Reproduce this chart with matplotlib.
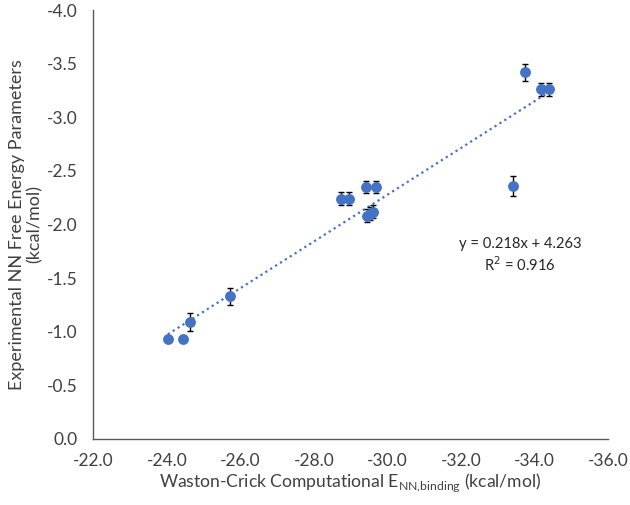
import numpy as np
import matplotlib
matplotlib.use('Agg')
import matplotlib.pyplot as plt
from matplotlib.ticker import FormatStrFormatter

# data
comp_energy = [-24.03, -24.44, -24.63, -25.71, -28.75, -28.96, -29.41, -29.69,
               -29.44, -29.52, -29.60, -33.74, -34.17, -34.39, -33.42]
exp_free = [-0.93, -0.93, -1.09, -1.33, -2.24, -2.24, -2.35, -2.35,
            -2.08, -2.10, -2.12, -3.42, -3.26, -3.26, -2.36]
exp_err = [0.0, 0.0, 0.08, 0.08, 0.06, 0.06, 0.06, 0.06,
           0.06, 0.06, 0.06, 0.08, 0.06, 0.06, 0.09]
slope = 0.218
intercept = 4.263
r_squared = 0.916

plt.rcParams['font.family'] = ['Lato', 'DejaVu Sans']
plt.rcParams['axes.unicode_minus'] = False

fig = plt.figure(figsize=(6.3, 5.05), dpi=100)
ax = fig.add_axes([0.148, 0.131, 0.817, 0.849])

blue = '#4472C4'
ax.errorbar(comp_energy, exp_free, yerr=exp_err, fmt='none', ecolor='black',
            elinewidth=1.0, capsize=2.5, capthick=1.0, zorder=2)
ax.plot(comp_energy, exp_free, 'o', color=blue, markersize=6.8, zorder=3)

# linear trendline from the reported fit
x_fit = np.array([max(comp_energy), min(comp_energy)])
ax.plot(x_fit, slope * x_fit + intercept, linestyle=(0, (1, 1.6)), color=blue,
        linewidth=1.6, zorder=1)

ax.text(0.829, 0.428, 'y = %.3fx + %.3f\nR$^2$ = %.3f' % (slope, intercept, r_squared),
        transform=ax.transAxes, ha='center', va='center', fontsize=10.6,
        color='#262626', linespacing=1.25)

ax.set_xlim(-22, -36)
ax.set_ylim(0, -4)
ax.set_xticks(np.arange(-22, -36.1, -2))
ax.set_yticks(np.arange(0, -4.01, -0.5))
ax.xaxis.set_major_formatter(FormatStrFormatter('%.1f'))
ax.yaxis.set_major_formatter(lambda v, p: '%.1f' % abs(v) if v == 0 else '%.1f' % v)
ax.tick_params(length=0, labelsize=12.5, colors='#404040')
ax.tick_params(axis='y', pad=11)
ax.tick_params(axis='x', pad=10)

for side in ['top', 'right']:
    ax.spines[side].set_visible(False)
for side in ['left', 'bottom']:
    ax.spines[side].set_color('#595959')
    ax.spines[side].set_linewidth(1.0)

ax.set_xlabel('Waston-Crick Computational E$_{\\mathregular{NN{,}binding}}$ (kcal/mol)',
              fontsize=12.6, color='#404040', labelpad=2)
ax.set_ylabel('Experimental NN Free Energy Parameters\n(kcal/mol)', fontsize=13,
              color='#404040', labelpad=3, linespacing=1.15)

fig.savefig('out.png', dpi=100)
